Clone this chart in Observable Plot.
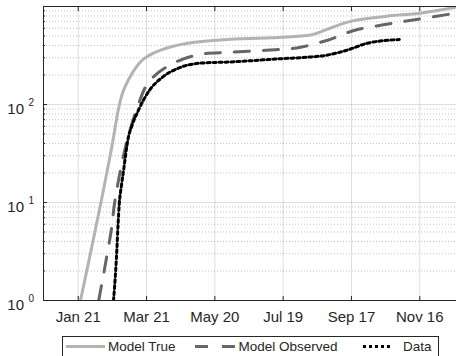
<!DOCTYPE html>
<html>
<head>
<meta charset="utf-8">
<script src="https://cdn.jsdelivr.net/npm/d3@7"></script>
<script src="https://cdn.jsdelivr.net/npm/@observablehq/plot@0.6"></script>
<style>
  body { margin: 0; background: #fff; }
  #chart { position: relative; width: 456px; height: 356px; overflow: hidden; background: #fff;
           font-family: "Liberation Sans", Arial, Helvetica, sans-serif; }
  #chart > svg { display: block; }
  .legend { position: absolute; left: 62px; top: 336px; width: 377px; height: 30px;
            border: 1px solid #262626; background: #fff; box-sizing: border-box; }
  .legend svg { display: block; }
</style>
</head>
<body>
<div id="chart"></div>
<script>
// Axis ticks
const xTickDates = ["2020-01-21", "2020-03-21", "2020-05-20", "2020-07-19", "2020-09-17", "2020-11-16"];
const yDecades = [1, 10, 100];
const yMinorTicks = [2, 3, 4, 5, 6, 7, 8, 9, 20, 30, 40, 50, 60, 70, 80, 90, 200, 300, 400, 500, 600, 700, 800, 900];

// Model True
const modelTrueDates = ["2020-01-23", "2020-02-10", "2020-02-17", "2020-02-21", "2020-02-25", "2020-02-29",
  "2020-03-05", "2020-03-11", "2020-03-18", "2020-03-27", "2020-04-11", "2020-04-26", "2020-06-03",
  "2020-07-19", "2020-08-14", "2020-09-01", "2020-09-18", "2020-10-18", "2020-11-16", "2020-12-18"];
const modelTrueValues = [1, 10, 26, 46, 86, 132, 178, 232, 288, 334, 386, 422, 463,
  486, 518, 618, 713, 796, 855, 984];

// Model Observed
const modelObservedDates = ["2020-02-08", "2020-02-14", "2020-02-19", "2020-02-22", "2020-02-27", "2020-03-04",
  "2020-03-13", "2020-03-23", "2020-04-11", "2020-05-07", "2020-06-02", "2020-07-04", "2020-07-31",
  "2020-08-27", "2020-09-20", "2020-10-18", "2020-11-13", "2020-12-12", "2020-12-18"];
const modelObservedValues = [1, 2.4, 5.2, 10, 21, 43, 94, 170, 255, 325, 341, 358, 378,
  453, 573, 659, 737, 834, 850];

// Data
const dataDates = ["2020-02-21", "2020-02-23", "2020-02-24", "2020-02-25", "2020-02-26", "2020-02-28",
  "2020-03-01", "2020-03-03", "2020-03-05", "2020-03-08", "2020-03-14", "2020-03-24", "2020-04-03",
  "2020-04-20", "2020-05-07", "2020-06-03", "2020-07-19", "2020-08-10", "2020-08-26", "2020-09-13",
  "2020-10-01", "2020-10-29"];
const dataValues = [1, 2.1, 3.4, 6, 9.5, 15, 22, 33, 46, 60, 88, 142, 186,
  240, 264, 272, 294, 304, 318, 358, 422, 460];

const rows = (dates, values) => dates.map((d, i) => ({date: new Date(d), value: values[i]}));
const modelTrue = rows(modelTrueDates, modelTrueValues);
const modelObserved = rows(modelObservedDates, modelObservedValues);
const observedData = rows(dataDates, dataValues);
const xTicks = xTickDates.map((d) => new Date(d));

const ink = "#262626";
const fmt = d3.utcFormat("%b %d");
const xDomain = [new Date(Date.UTC(2019, 11, 21, 12)), new Date(Date.UTC(2020, 11, 18, 6))];
const blank = () => "";

const chart = Plot.plot({
  width: 456,
  height: 336,
  marginTop: 6,
  marginRight: 0,
  marginBottom: 36,
  marginLeft: 43,
  style: {fontFamily: '"Liberation Sans", Arial, Helvetica, sans-serif', background: "#fff", color: ink},
  x: {type: "utc", domain: xDomain, label: null},
  y: {type: "log", domain: [1, 1000], label: null},
  marks: [
    // grid
    Plot.ruleY(yMinorTicks, {stroke: ink, strokeOpacity: 0.28, strokeDasharray: "1,2"}),
    Plot.ruleY(yDecades.slice(1), {stroke: ink, strokeOpacity: 0.15}),
    Plot.ruleX(xTicks, {stroke: ink, strokeOpacity: 0.15}),
    // series
    Plot.line(modelTrue, {x: "date", y: "value", stroke: "#b3b3b3", strokeWidth: 3, curve: "catmull-rom", clip: true}),
    Plot.line(modelObserved, {x: "date", y: "value", stroke: "#666666", strokeWidth: 3, strokeDasharray: "15,14", curve: "catmull-rom", clip: true}),
    Plot.line(observedData, {x: "date", y: "value", stroke: "#000000", strokeWidth: 3, strokeDasharray: "3,3", curve: "monotone-x", clip: true}),
    // box
    Plot.ruleY([1000], {stroke: ink}),
    Plot.ruleY([1], {stroke: ink}),
    Plot.ruleX([xDomain[0]], {stroke: ink}),
    // inward ticks
    Plot.axisY(yDecades, {anchor: "left", tickSize: 4, dx: 4, stroke: ink, tickFormat: blank, label: null}),
    Plot.axisY(yMinorTicks, {anchor: "left", tickSize: 2, dx: 2, stroke: ink, tickFormat: blank, label: null}),
    Plot.axisX(xTicks, {anchor: "bottom", tickSize: 4, dy: -4, stroke: ink, tickFormat: blank, label: null}),
    Plot.axisX(xTicks, {anchor: "top", tickSize: 4, dy: 4, stroke: ink, tickFormat: blank, label: null}),
    // labels
    Plot.axisX(xTicks, {anchor: "bottom", tickSize: 0, tickPadding: 11, fontSize: 15, fill: ink, tickFormat: fmt, label: null}),
    Plot.text(yDecades, {y: (d) => d, frameAnchor: "left", text: () => "10", textAnchor: "end", dx: -19.5, dy: 4.5, fontSize: 15, fill: ink}),
    Plot.text(yDecades, {y: (d) => d, frameAnchor: "left", text: (d) => String(Math.round(Math.log10(d))), textAnchor: "start", dx: -15, dy: -2, fontSize: 10, fill: ink})
  ]
});

const root = document.getElementById("chart");
root.appendChild(chart);

// legend below the axes
const legend = document.createElement("div");
legend.className = "legend";
legend.innerHTML = `
<svg width="375" height="28" font-family='"Liberation Sans", Arial, Helvetica, sans-serif' font-size="13.5" fill="${ink}">
  <line x1="3" x2="42" y1="9.5" y2="9.5" stroke="#b3b3b3" stroke-width="3"/>
  <text x="45" y="13.5">Model True</text>
  <line x1="132" x2="174" y1="9.5" y2="9.5" stroke="#666666" stroke-width="3" stroke-dasharray="13,14"/>
  <text x="175.5" y="13.5">Model Observed</text>
  <line x1="300" x2="327" y1="9.5" y2="9.5" stroke="#000000" stroke-width="3" stroke-dasharray="3,3"/>
  <text x="340" y="13.5">Data</text>
</svg>`;
root.appendChild(legend);
</script>
</body>
</html>
